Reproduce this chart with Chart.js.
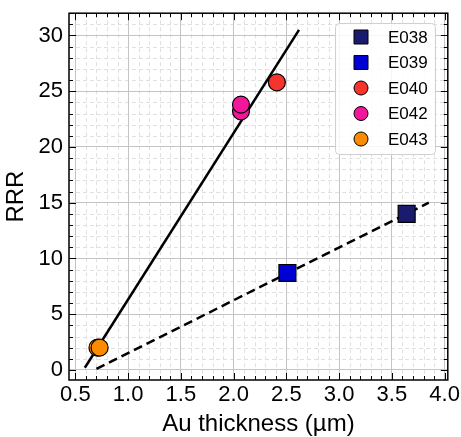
<!DOCTYPE html>
<html>
<head>
<meta charset="utf-8">
<script src="https://cdn.jsdelivr.net/npm/chart.js@4"></script>
<style>
  html, body { margin: 0; padding: 0; background: #fff; }
  #wrap { width: 461px; height: 437px; }
</style>
</head>
<body>
<div id="wrap"><canvas id="myChart" width="461" height="437"></canvas></div>
<script>
// tick labels
const xTicks = [0.5, 1.0, 1.5, 2.0, 2.5, 3.0, 3.5, 4.0];
const yTicks = [0, 5, 10, 15, 20, 25, 30];

// samples (Au thickness in um, RRR)
const sampleNames = ["E038", "E039", "E040", "E042", "E043"];
const e038X = [3.64], e038Y = [14.0];
const e039X = [2.51], e039Y = [8.7];
const e040X = [2.41], e040Y = [25.8];
const e042X = [2.07, 2.07], e042Y = [23.2, 23.8];
const e043X = [0.71, 0.73], e043Y = [2.0, 2.0];

// fit lines
const fitSolidX = [0.59, 2.62], fitSolidY = [0.2, 30.5];
const fitDashX = [0.70, 3.85], fitDashY = [0.1, 15.0];

const toPts = (xs, ys) => xs.map((x, i) => ({ x: x, y: ys[i] }));

const FONT = "'Liberation Sans', Arial, sans-serif";

// minor grid lines (dashed) drawn under everything
const minorGrid = {
  id: "minorGrid",
  beforeDraw(chart) {
    const { ctx, chartArea: a, scales: { x, y } } = chart;
    ctx.save();
    ctx.strokeStyle = "#e0e0e0";
    ctx.lineWidth = 1;
    ctx.setLineDash([4, 3]);
    for (let i = 5; i <= 40; i++) {
      if (i % 5 === 0) continue;
      const px = Math.round(x.getPixelForValue(i / 10)) + 0.5;
      ctx.beginPath(); ctx.moveTo(px, a.top); ctx.lineTo(px, a.bottom); ctx.stroke();
    }
    for (let v = 0; v <= 32; v++) {
      if (v % 5 === 0) continue;
      const py = Math.round(y.getPixelForValue(v)) + 0.5;
      ctx.beginPath(); ctx.moveTo(a.left, py); ctx.lineTo(a.right, py); ctx.stroke();
    }
    ctx.restore();
  }
};

// frame, inward ticks and legend box
const frameAndLegend = {
  id: "frameAndLegend",
  afterDraw(chart) {
    const { ctx, chartArea: a, scales: { x, y } } = chart;
    ctx.save();
    ctx.strokeStyle = "#000";
    ctx.lineWidth = 1;
    for (let i = 5; i <= 40; i++) {
      const px = Math.round(x.getPixelForValue(i / 10)) + 0.5;
      const len = i % 5 === 0 ? 7 : 4;
      ctx.beginPath();
      ctx.moveTo(px, a.bottom); ctx.lineTo(px, a.bottom - len);
      ctx.moveTo(px, a.top); ctx.lineTo(px, a.top + len);
      ctx.stroke();
    }
    for (let v = 0; v <= 32; v++) {
      const py = Math.round(y.getPixelForValue(v)) + 0.5;
      const len = v % 5 === 0 ? 7 : 4;
      ctx.beginPath();
      ctx.moveTo(a.left, py); ctx.lineTo(a.left + len, py);
      ctx.moveTo(a.right, py); ctx.lineTo(a.right - len, py);
      ctx.stroke();
    }
    ctx.lineWidth = 1.5;
    ctx.strokeRect(a.left, a.top, a.right - a.left, a.bottom - a.top);

    // legend
    const bx = 335, by = 23, bw = 100, bh = 131;
    ctx.fillStyle = "rgba(255,255,255,0.85)";
    ctx.strokeStyle = "#d0d0d0";
    ctx.lineWidth = 1;
    ctx.beginPath();
    ctx.roundRect(bx + 0.5, by + 0.5, bw, bh, 4);
    ctx.fill(); ctx.stroke();
    const rows = chart.data.datasets.filter(d => sampleNames.includes(d.label));
    ctx.font = "17px " + FONT;
    ctx.textBaseline = "middle";
    rows.forEach((d, i) => {
      const cy = by + 14 + i * 25.5;
      const cx = bx + 26;
      ctx.fillStyle = d.backgroundColor;
      ctx.strokeStyle = "#000";
      ctx.lineWidth = 1;
      ctx.beginPath();
      if (d.pointStyle === "rect") ctx.rect(cx - 7, cy - 7, 14, 14);
      else ctx.arc(cx, cy, 7, 0, Math.PI * 2);
      ctx.fill(); ctx.stroke();
      ctx.fillStyle = "#000";
      ctx.fillText(d.label, bx + 53, cy + 1);
    });
    ctx.restore();
  }
};

const sample = (label, xs, ys, color, style, r) => ({
  label: label,
  data: toPts(xs, ys),
  backgroundColor: color,
  borderColor: "#000",
  borderWidth: 1.2,
  pointStyle: style,
  pointRadius: r,
  pointHoverRadius: r,
  showLine: false,
  order: 1
});

new Chart(document.getElementById("myChart"), {
  type: "scatter",
  data: {
    datasets: [
      sample("E038", e038X, e038Y, "#1b1b6e", "rect", 12),
      sample("E039", e039X, e039Y, "#0000d2", "rect", 12),
      sample("E040", e040X, e040Y, "#f5342e", "circle", 8.5),
      sample("E042", e042X, e042Y, "#f2179a", "circle", 8.5),
      sample("E043", e043X, e043Y, "#fb8c00", "circle", 8.5),
      {
        label: "fit1",
        data: toPts(fitSolidX, fitSolidY),
        showLine: true,
        borderColor: "#000",
        borderWidth: 2.5,
        pointRadius: 0,
        order: 2
      },
      {
        label: "fit2",
        data: toPts(fitDashX, fitDashY),
        showLine: true,
        borderColor: "#000",
        borderWidth: 2.5,
        borderDash: [9, 5],
        pointRadius: 0,
        order: 2
      }
    ]
  },
  options: {
    responsive: false,
    animation: false,
    layout: { padding: { top: 10, right: 13, left: 0, bottom: 0 } },
    plugins: { legend: { display: false }, tooltip: { enabled: false } },
    scales: {
      x: {
        type: "linear",
        min: 0.44,
        max: 4.03,
        afterBuildTicks: (s) => { s.ticks = xTicks.map(v => ({ value: v })); },
        afterFit: (s) => { s.height = 57; s.paddingLeft = 0; s.paddingRight = 0; },
        ticks: {
          color: "#000",
          font: { family: FONT, size: 22 },
          padding: 2,
          maxRotation: 0,
          callback: (v) => v.toFixed(1)
        },
        grid: { color: "#c4c4c4", lineWidth: 1, drawTicks: false },
        border: { display: false },
        title: {
          display: true,
          text: "Au thickness (µm)",
          color: "#000",
          font: { family: FONT, size: 24 },
          padding: { top: 0, bottom: -2 }
        }
      },
      y: {
        type: "linear",
        min: -0.9,
        max: 32.0,
        afterBuildTicks: (s) => { s.ticks = yTicks.map(v => ({ value: v })); },
        afterFit: (s) => { s.width = 69; s.paddingTop = 0; s.paddingBottom = 0; },
        ticks: {
          color: "#000",
          font: { family: FONT, size: 22 },
          padding: 6,
          callback: (v) => String(v)
        },
        grid: { color: "#c4c4c4", lineWidth: 1, drawTicks: false },
        border: { display: false },
        title: {
          display: true,
          text: "RRR",
          color: "#000",
          font: { family: FONT, size: 24 },
          padding: { top: 2, bottom: 0 }
        }
      }
    }
  },
  plugins: [minorGrid, frameAndLegend]
});
</script>
</body>
</html>
